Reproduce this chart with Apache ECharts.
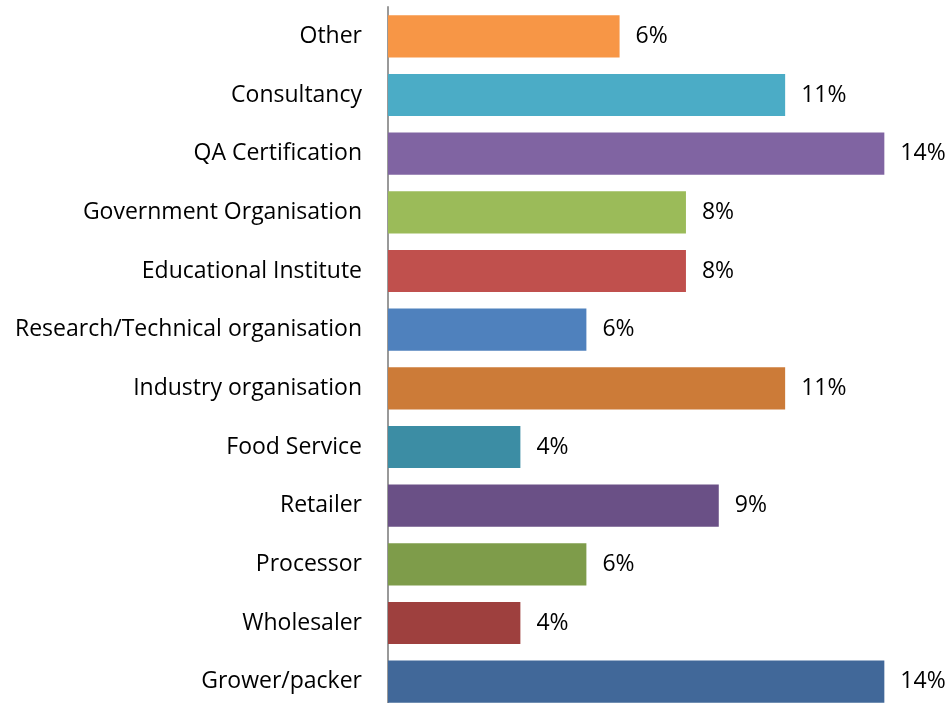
<!DOCTYPE html>
<html>
<head>
<meta charset="utf-8">
<script src="https://cdn.jsdelivr.net/npm/echarts@6/dist/echarts.min.js"></script>
<style>
  html, body { margin: 0; padding: 0; background: #fff; }
  #chart { width: 948px; height: 703px; }
</style>
</head>
<body>
<div id="chart"></div>
<script>
// top to bottom, as in the picture
var categories = ['Other', 'Consultancy', 'QA Certification', 'Government Organisation',
  'Educational Institute', 'Research/Technical organisation', 'Industry organisation',
  'Food Service', 'Retailer', 'Processor', 'Wholesaler', 'Grower/packer']
// percent shares (labels are shown rounded)
var shares = [6.42, 11.01, 13.76, 8.26, 8.26, 5.50, 11.01, 3.67, 9.17, 5.50, 3.67, 13.76]
var barColors = ['#F79646', '#4BACC6', '#8064A2', '#9BBB59', '#C0504D', '#4F81BD',
  '#CC7B38', '#3C8DA4', '#6A5086', '#7E9C4A', '#9E403E', '#416899']

var myChart = echarts.init(document.getElementById('chart'))
myChart.setOption({
  animation: false,
  grid: {
    left: 388,
    top: 7,
    width: 505,
    height: 704,
    outerBoundsMode: 'none'
  },
  xAxis: {
    type: 'value',
    min: 0,
    max: 14,
    show: false
  },
  yAxis: {
    type: 'category',
    inverse: true,
    data: categories,
    axisLine: { lineStyle: { color: '#999', width: 2 } },
    axisTick: { show: false },
    axisLabel: {
      margin: 26,
      padding: [4, 0, 0, 0],
      color: '#000',
      fontFamily: 'Open Sans',
      fontSize: 23
    }
  },
  series: [{
    type: 'bar',
    barWidth: '72%',
    data: shares.map(function (v, i) {
      return { value: v, itemStyle: { color: barColors[i] } }
    }),
    label: {
      show: true,
      position: 'right',
      distance: 16,
      padding: [4, 0, 0, 0],
      color: '#000',
      fontFamily: 'Open Sans',
      fontSize: 23,
      formatter: function (p) { return Math.round(p.value) + '%' }
    }
  }]
})
</script>
</body>
</html>
